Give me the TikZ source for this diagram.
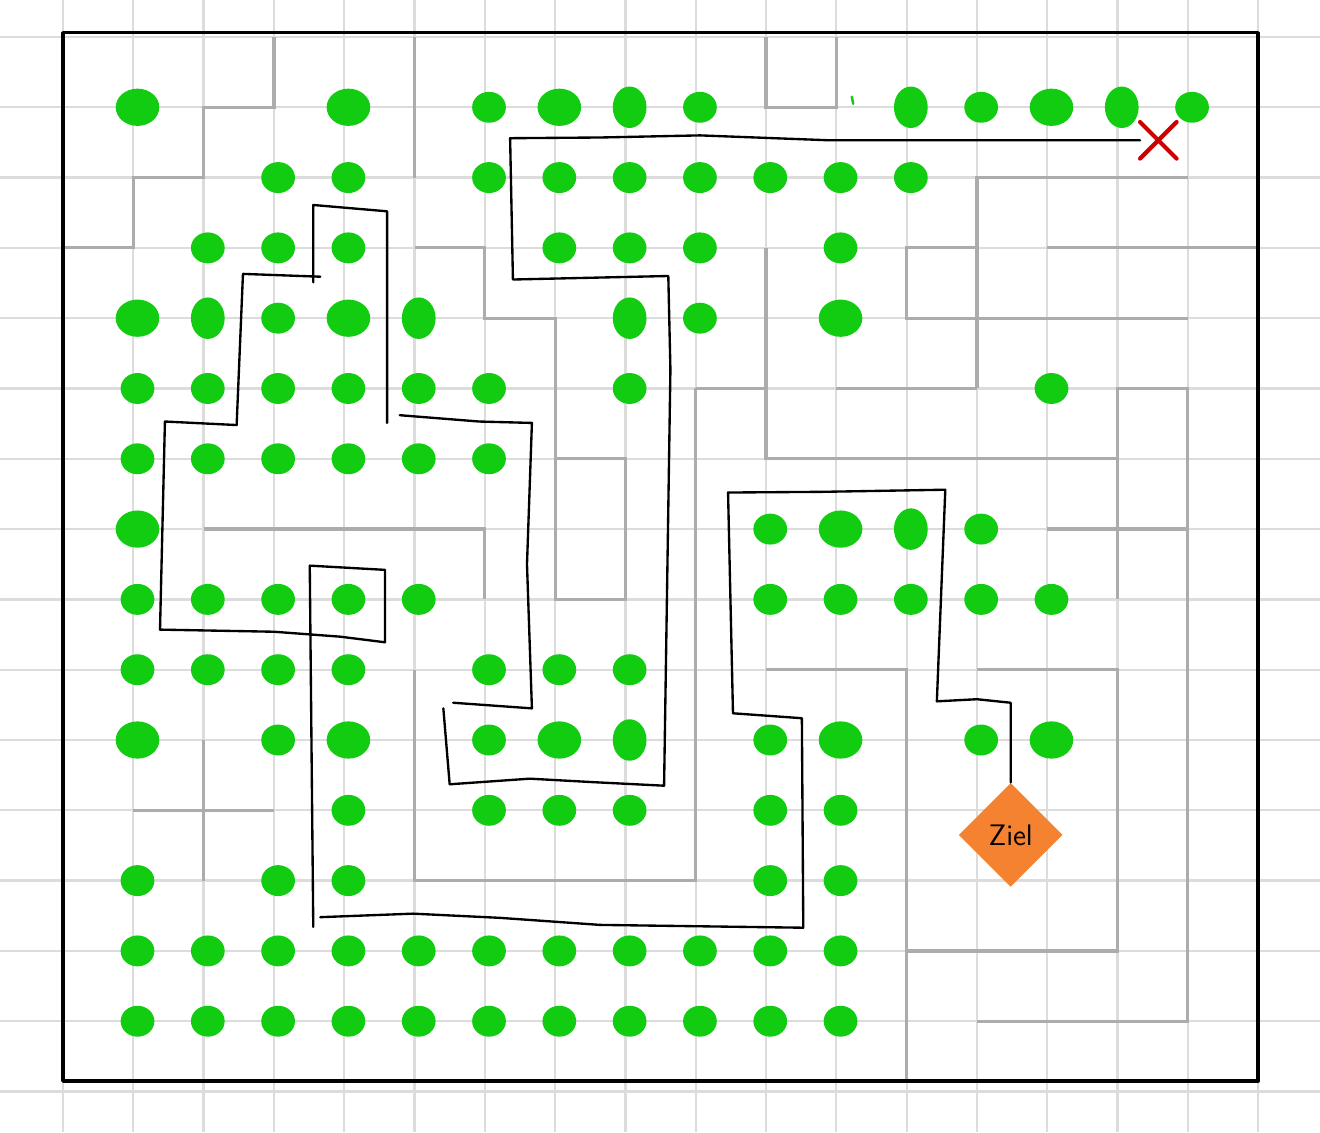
\documentclass[tikz,border=0pt]{standalone}
\usetikzlibrary{shapes.geometric,shapes.misc}
\definecolor{paper}{RGB}{220,220,220}
\definecolor{wallgray}{RGB}{172,172,172}
\definecolor{dotgreen}{RGB}{17,204,17}
\definecolor{xred}{RGB}{204,0,0}
\definecolor{zielorange}{RGB}{245,130,48}

\begin{document}
\begin{tikzpicture}[
    x=1cm, y=-1cm,
    gridline/.style={draw=paper, line width=0.9pt},
    wall/.style={draw=wallgray, line width=1.3pt},
    mazeframe/.style={draw=black, line width=1.4pt, line join=round},
    route/.style={draw=black, line width=0.95pt, line join=round, line cap=round},
    greendot/.style={ellipse, fill=dotgreen, inner sep=0pt, minimum width=4.8mm, minimum height=4.4mm},
    bigdot/.style={greendot, minimum width=6.2mm, minimum height=5.3mm},
    talldot/.style={greendot, minimum width=4.8mm, minimum height=5.9mm},
    xmark/.style={cross out, draw=xred, line width=1.7pt, line cap=round, minimum size=4.6mm, inner sep=0pt},
    goal/.style={diamond, fill=zielorange, aspect=1, minimum size=14.8mm, inner sep=0pt,
                 font=\sffamily\fontsize{12}{14}\selectfont},
  ]
  \useasboundingbox (-0.896,-0.526) rectangle (17.88,15.576);

  % squared paper
  \foreach \i in {0,...,17} \draw[gridline] (\i,-0.526) -- (\i,15.576);
  \foreach \j in {0,...,15} \draw[gridline] (-0.896,\j) -- (17.88,\j);

  % maze walls
  \draw[wall] (3,0) -- (3,1) -- (2,1) -- (2,2) -- (1,2) -- (1,3) -- (0,3);
  \draw[wall] (5,0) -- (5,2);
  \draw[wall] (5,3) -- (6,3) -- (6,4) -- (7,4) -- (7,6);
  \draw[wall] (7,6) rectangle (8,8);
  \draw[wall] (10,0) -- (10,1) -- (11,1) -- (11,0);
  \draw[wall] (16,2) -- (13,2) -- (13,5);
  \draw[wall] (13,3) -- (12,3) -- (12,4) -- (16,4);
  \draw[wall] (14,3) -- (17,3);
  \draw[wall] (10,3) -- (10,6) -- (15,6);
  \draw[wall] (9,5) -- (10,5) (11,5) -- (13,5);
  \draw[wall] (9,5) -- (9,12) -- (5,12) -- (5,9);
  \draw[wall] (15,8) -- (15,5) -- (16,5) -- (16,14) -- (13,14);
  \draw[wall] (14,7) -- (16,7);
  \draw[wall] (13,9) -- (15,9) -- (15,13) -- (12,13);
  \draw[wall] (10,9) -- (12,9) -- (12,14.85);
  \draw[wall] (2,7) -- (6,7) -- (6,8);
  \draw[wall] (2,10) -- (2,12) (1,11) -- (3,11);

  \draw[mazeframe] (0,-0.06) rectangle (17,14.85);

  % dots
  \foreach \j/\cols in {1/{6,9,13,16}, 2/{3,4,6,7,8,9,10,11,12}, 3/{2,3,4,7,8,9,11},
      4/{3,9}, 5/{1,2,3,4,5,6,8,14}, 6/{1,2,3,4,5,6}, 7/{10,13},
      8/{1,2,3,4,5,10,11,12,13,14}, 9/{1,2,3,4,6,7,8}, 10/{3,6,10,13},
      11/{4,6,7,8,10,11}, 12/{1,3,4,10,11}, 13/{1,2,3,4,5,6,7,8,9,10,11},
      14/{1,2,3,4,5,6,7,8,9,10,11}}
    \foreach \i in \cols \node[greendot] (d\i-\j) at (\i+0.06,\j) {};
  \foreach \j/\cols in {1/{1,4,7,14}, 4/{1,4,11}, 7/{1,11}, 10/{1,4,7,11,14}}
    \foreach \i in \cols \node[bigdot] (d\i-\j) at (\i+0.06,\j) {};
  \foreach \j/\cols in {1/{8,12,15}, 4/{2,5,8}, 7/{12}, 10/{8}}
    \foreach \i in \cols \node[talldot] (d\i-\j) at (\i+0.06,\j) {};
  \draw[dotgreen, line width=1pt, line cap=round] (11.22,0.85) -- (11.24,0.95);

  \node[xmark] (start) at (15.58,1.47) {};
  \node[goal] (ziel) at (13.48,11.35) {Ziel};

  \draw[route] (start) -- (12.66,1.47) -- (10.91,1.47) -- (9.06,1.40) -- (7.64,1.43) -- (6.36,1.44)
    -- (6.40,3.45) -- (8.61,3.40) -- (8.64,4.73) -- (8.55,10.65)
    -- (7.55,10.60) -- (6.64,10.55) -- (5.50,10.63) -- (5.41,9.55)
    (5.55,9.47) -- (6.67,9.55) -- (6.60,7.50) -- (6.67,5.49) -- (5.92,5.47) -- (4.79,5.38)
    (4.61,5.49) -- (4.61,2.48) -- (3.56,2.39) -- (3.56,3.49)
    (3.66,3.41) -- (2.56,3.37) -- (2.47,5.52) -- (1.45,5.47) -- (1.38,8.43)
    -- (3.00,8.46) -- (3.94,8.53) -- (4.58,8.61) -- (4.58,7.58) -- (3.51,7.52) -- (3.56,12.66)
    (3.66,12.52) -- (4.98,12.47) -- (6.22,12.53) -- (7.64,12.63) -- (10.53,12.67)
    -- (10.51,9.69) -- (9.53,9.62) -- (9.46,6.48) -- (10.80,6.47) -- (12.55,6.44)
    -- (12.43,9.45) -- (13.00,9.42) -- (13.48,9.47) -- (ziel.north);
\end{tikzpicture}
\end{document}
